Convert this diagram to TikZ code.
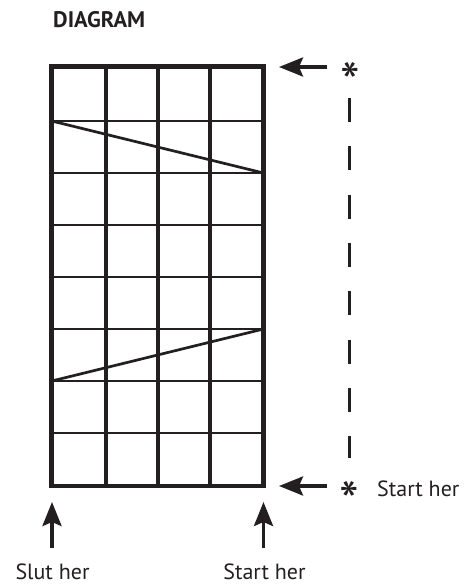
\documentclass[tikz,border=0pt]{standalone}
\usepackage{fontspec}
\setmainfont{PT Sans}
\usetikzlibrary{arrows.meta}
\definecolor{ink}{HTML}{231F20}
\begin{document}
\begin{tikzpicture}[x=1pt,y=-1pt,
  lbl/.style={font=\fontsize{22}{24}\selectfont, text=ink, inner sep=0pt},
  star/.style={font=\fontsize{56}{58}\selectfont, text=ink, inner sep=0pt, anchor=base},
  title/.style={font=\fontsize{22.5}{24}\selectfont\bfseries, text=ink, inner sep=0pt},
  arr/.style={draw=ink, line width=3.5pt, -{Stealth[length=24pt,width=19pt,inset=4pt]}},
  frame/.style={draw=ink, line width=4.7pt, line join=miter},
  vline/.style={draw=ink, line width=3.5pt},
  hline/.style={draw=ink, line width=2pt},
  diag/.style={draw=ink, line width=2.7pt},
  guide/.style={draw=ink, line width=3pt, dash pattern=on 24pt off 24.3pt}]
\useasboundingbox (0,0) rectangle (464,584);
\node[title, anchor=base west] (title) at (53,27) {DIAGRAM};
% grid
\coordinate (tl) at (51.7,66.7);
\coordinate (br) at (263.5,486);
\foreach \y in {121,173,225,277,329,381,433}
  \draw[hline] (51.7,\y) -- (263.5,\y);
\foreach \x in {106,158,210}
  \draw[vline] (\x,66.7) -- (\x,486);
\draw[frame] (tl) rectangle (br);
% zigzag lines
\coordinate (d1a) at (51.7,121);
\coordinate (d1b) at (263.5,173);
\coordinate (d2a) at (51.7,381);
\coordinate (d2b) at (263.5,329);
\draw[diag] (d1a) -- (d1b);
\draw[diag] (d2a) -- (d2b);
% right side
\coordinate (t0) at (327,67);
\coordinate (t1) at (279,67);
\draw[arr] (t0) -- (t1);
\coordinate (b0) at (327,486);
\coordinate (b1) at (279,486);
\draw[arr] (b0) -- (b1);
\node[star] (s1) at (350,102.5) {*};
\node[star] (s2) at (349.5,521.5) {*};
\coordinate (g0) at (349.5,98);
\coordinate (g1) at (349.5,458);
\draw[guide] (g0) -- (g1);
\node[lbl, anchor=base west] (sr) at (377,496) {Start her};
% bottom
\coordinate (u0) at (52,548);
\coordinate (u1) at (52,502);
\draw[arr] (u0) -- (u1);
\coordinate (v0) at (263.5,548);
\coordinate (v1) at (263.5,502);
\draw[arr] (v0) -- (v1);
\node[lbl, anchor=base] (slut) at (52.5,579) {Slut her};
\node[lbl, anchor=base] (start) at (264.5,579) {Start her};
\end{tikzpicture}
\end{document}
